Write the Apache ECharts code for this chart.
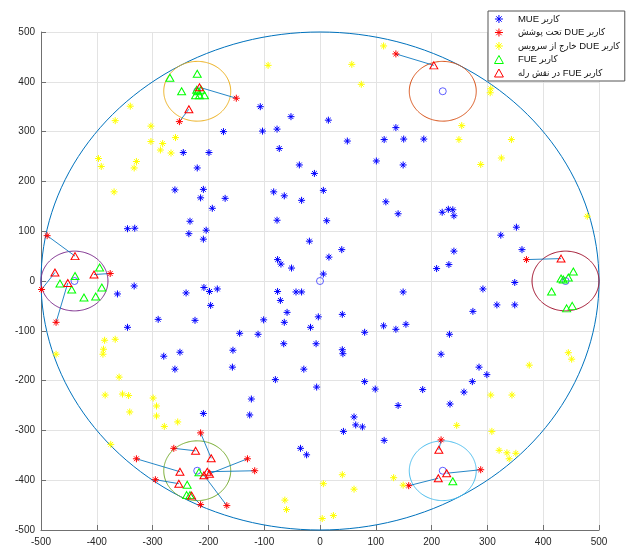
<!DOCTYPE html>
<html>
<head>
<meta charset="utf-8">
<script src="https://cdn.jsdelivr.net/npm/echarts@6/dist/echarts.min.js"></script>
<style>html,body{margin:0;padding:0;background:#fff}#c{width:636px;height:548px}</style>
</head>
<body>
<div id="c"></div>
<script>
// ---- data ----
const mueUsers = [
  [-107,350],[-52,330],[15,323],[-173,300],[-103,301],[-77,305],[-73,266],[-245,258],[-199,258],[-220,227],
  [-37,233],[-10,216],[-260,183],[-209,184],[-214,167],[-170,166],[-193,146],[-83,179],[-64,171],[-33,162],
  [6,182],[-233,120],[-204,102],[-235,95],[-209,84],[-77,122],[12,121],[-345,105],[-332,106],[-19,80],
  [-76,43],[-70,34],[-51,26],[6,14],[16,48],
  [49,281],[115,284],[136,308],[150,285],[186,285],[101,241],[149,233],[118,159],[140,135],[219,138],
  [230,144],[238,143],[240,131],[39,63],[324,92],[352,108],[362,63],[240,60],[231,33],[209,25],
  [-333,-10],[-363,-26],[-240,-24],[-208,-13],[-198,-21],[-184,-16],[-196,-49],[-76,-21],[-71,-39],[-43,-22],
  [-33,-22],[-59,-63],[-101,-78],[-64,-83],[-3,-72],[-17,-93],[-290,-77],[-224,-79],[-345,-93],[-144,-105],
  [-111,-107],[-251,-143],[-280,-151],[-156,-139],[-65,-126],[-7,-126],[-260,-177],[-157,-173],[-29,-177],[-80,-198],
  [-6,-213],[-123,-237],[-209,-266],[-126,-269],[-35,-336],[-24,-349],
  [149,-22],[40,-67],[80,-103],[114,-90],[136,-97],[154,-87],[40,-138],[41,-146],[80,-202],[99,-217],
  [140,-250],[184,-218],[232,-107],[217,-147],[274,-61],[292,-16],[317,-48],[349,-48],[349,-3],[285,-173],
  [299,-188],[273,-202],[258,-223],[233,-247],[61,-273],[64,-289],[76,-293],[42,-302],[115,-320]
];
const dueOutOfService = [
  [-93,433],[-340,351],[-367,322],[-303,311],[-259,288],[-303,280],[-282,276],[-286,263],[-267,257],[-397,246],
  [-392,230],[-329,240],[-333,227],[-369,179],
  [114,472],[57,435],[74,395],[306,386],[305,378],[254,312],[249,284],[343,284],[325,247],[288,234],[479,130],
  [-473,-147],[-386,-119],[-367,-117],[-388,-137],[-389,-147],[-360,-193],[-385,-229],[-354,-227],[-343,-230],[-341,-263],
  [-299,-235],[-293,-251],[-293,-271],[-279,-292],[-255,-283],[-375,-328],[-63,-440],[-60,-459],[6,-407],[4,-477],
  [445,-144],[451,-157],[375,-169],[306,-229],[344,-229],[245,-290],[308,-302],[321,-340],[335,-345],[351,-346],
  [339,-357],[40,-389],[61,-418],[132,-395],[149,-410],[24,-471]
];
// covered DUE users, same order as the relay FUEs they are linked to
const dueCovered = [
  [-150,367],[-252,320],[136,456],[-489,91],[-499,-17],[-473,-83],[-376,15],[370,43],[-214,-305],[-262,-336],
  [-329,-357],[-117,-381],[-130,-357],[-167,-451],[-295,-399],[-214,-449],[217,-319],[288,-379],[159,-411]
];
const fueRelay = [
  [-216,389],[-235,345],[204,433],[-439,50],[-475,17],[-452,-4],[-405,13],[432,45],[-195,-356],[-223,-341],
  [-251,-383],[-202,-383],[-198,-387],[-208,-390],[-253,-407],[-230,-431],[213,-339],[227,-386],[212,-396]
];
const fueUsers = [
  [-220,416],[-269,408],[-248,381],[-221,384],[-223,373],[-216,373],[-207,373],[-219,381],[-213,384],
  [-439,10],[-395,27],[-466,-5],[-445,-17],[-391,-13],[-423,-33],[-402,-31],
  [454,19],[445,7],[432,5],[436,3],[415,-21],[442,-55],[452,-50],
  [-217,-384],[-238,-409],[-239,-430],[-233,-430],
  [238,-402]
];
const stationCenters = [[0,0],[220,381],[-220,381],[-440,0],[-220,-381],[220,-381],[440,0]];
const rangeRadii = [500,60,60,60,60,60,60];
const rangeColors = ['#0072BD','#D95319','#EDB120','#7E2F8E','#77AC30','#4DBEEE','#A2142F'];
const axisTicks = [-500,-400,-300,-200,-100,0,100,200,300,400,500];
const legendNames = ['کاربر MUE','کاربر DUE تحت پوشش','کاربر DUE خارج از سرویس','کاربر FUE','کاربر FUE در نقش رله'];

// ---- chart ----
const STAR = 'path://M5,0L5,10M0,5L10,5M1.6,1.6L8.4,8.4M1.6,8.4L8.4,1.6';
const TRI = 'path://M5,0L10,9L0,9Z';
const FONT = 'Liberation Sans, Arial, DejaVu Sans, sans-serif';
const LFONT = 'Liberation Sans, DejaVu Sans Condensed, DejaVu Sans, sans-serif';
const chart = echarts.init(document.getElementById('c'), null, {renderer:'canvas'});

function starSeries(name, data, color){
  return {name, type:'scatter', data, symbol:STAR, symbolSize:7,
    itemStyle:{color:'rgba(0,0,0,0)', borderColor:color, borderWidth:1, opacity:1},
    emphasis:{disabled:true}, z:5};
}
function triSeries(name, data, color){
  return {name, type:'scatter', data, symbol:TRI, symbolSize:[8,7],
    itemStyle:{color:'rgba(0,0,0,0)', borderColor:color, borderWidth:1, opacity:1},
    emphasis:{disabled:true}, z:6};
}
const axisCommon = {
  type:'value', min:axisTicks[0], max:axisTicks[axisTicks.length-1], interval:100,
  axisLine:{show:true, onZero:false, lineStyle:{color:'#707070', width:1}},
  axisTick:{show:true, inside:true, length:5, lineStyle:{color:'#707070'}},
  splitLine:{show:true, lineStyle:{color:'#e3e3e3', width:1}},
  axisLabel:{color:'#262626', fontSize:10, fontFamily:FONT, showMinLabel:true, showMaxLabel:true}
};
const legendIcon = [
  {icon:STAR, c:'#0000ff'},{icon:STAR, c:'#ff0000'},{icon:STAR, c:'#ffff00'},
  {icon:TRI, c:'#00ff00'},{icon:TRI, c:'#ff0000'}
];
const option = {
  animation:false,
  backgroundColor:'#fff',
  grid:{left:41, right:37, top:32, bottom:18, containLabel:false, outerBoundsMode:'none'},
  xAxis:Object.assign({}, axisCommon, {axisLabel:Object.assign({}, axisCommon.axisLabel, {margin:7})}),
  yAxis:Object.assign({}, axisCommon, {axisLabel:Object.assign({}, axisCommon.axisLabel, {margin:6})}),
  legend:{
    orient:'vertical', left:488, top:11,
    padding:[3,5,3,6], itemGap:3.5, itemWidth:28, itemHeight:8,
    symbolKeepAspect:true,
    backgroundColor:'#fff', borderColor:'#555', borderWidth:1,
    textStyle:{fontSize:9.5, fontFamily:LFONT, color:'#111', lineHeight:10},
    formatter: n => '\u202B' + n + '\u202C',
    data: legendNames.map((n,i)=>({name:n, icon:legendIcon[i].icon, symbolKeepAspect:true,
      itemStyle:{color:'rgba(0,0,0,0)', borderColor:legendIcon[i].c, borderWidth:1}})),
    selectedMode:false
  },
  series:[
    {type:'custom', coordinateSystem:'cartesian2d', silent:true, clip:false, z:2,
     data: stationCenters.map((c,i)=>[c[0],c[1],rangeRadii[i]]),
     renderItem(params, api){
       const c = api.coord([api.value(0), api.value(1)]);
       const s = api.size([api.value(2), api.value(2)]);
       const pts = [];
       for(let k=0;k<=180;k++){ const a = k/180*Math.PI*2; pts.push([c[0]+s[0]*Math.cos(a), c[1]+s[1]*Math.sin(a)]); }
       return {type:'polyline', shape:{points:pts}, style:{fill:null, stroke:rangeColors[params.dataIndex], lineWidth:1}};
     }},
    {type:'lines', coordinateSystem:'cartesian2d', silent:true, z:3,
     data: fueRelay.map((r,i)=>({coords:[r, dueCovered[i]]})),
     lineStyle:{color:'#0072BD', width:1, opacity:0.85}},
    starSeries(legendNames[0], mueUsers, '#0000ff'),
    starSeries(legendNames[1], dueCovered, '#ff0000'),
    starSeries(legendNames[2], dueOutOfService, '#ffff00'),
    triSeries(legendNames[3], fueUsers, '#00ff00'),
    triSeries(legendNames[4], fueRelay, '#ff0000'),
    {name:'stations', type:'scatter', data:stationCenters, symbol:'circle', symbolSize:7,
     itemStyle:{color:'rgba(0,0,0,0)', borderColor:'#3a3aff', borderWidth:1}, emphasis:{disabled:true}, z:4}
  ]
};
chart.setOption(option);
</script>
</body>
</html>
